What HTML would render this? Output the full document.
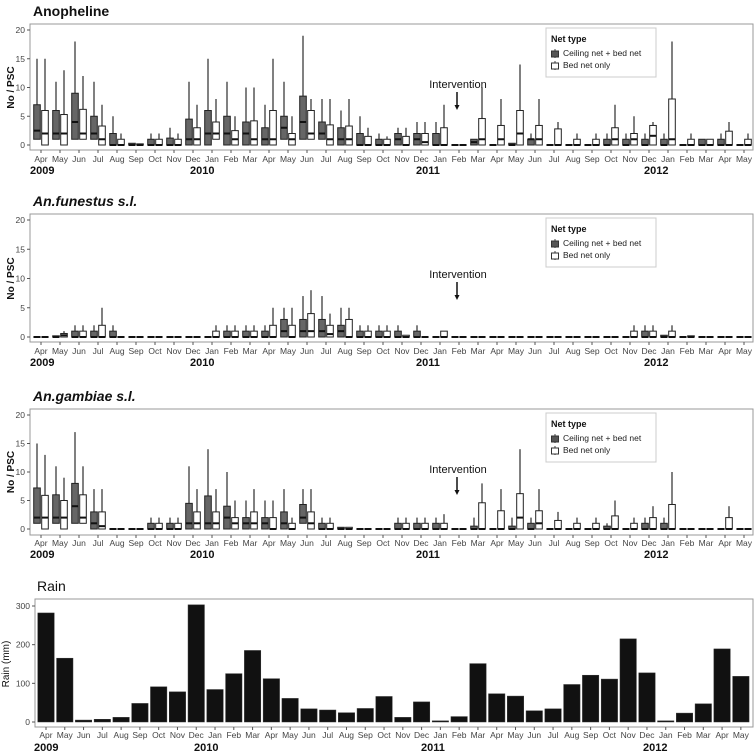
<!DOCTYPE html>
<html><head><meta charset="utf-8"><style>
body{margin:0;background:#fff}
svg{display:block;font-family:"Liberation Sans",Arial,sans-serif}
</style></head><body>
<svg id="chart" width="756" height="754" viewBox="0 0 756 754" xmlns="http://www.w3.org/2000/svg"></svg>
<script>
const months = ['Apr','May','Jun','Jul','Aug','Sep','Oct','Nov','Dec','Jan','Feb','Mar','Apr','May','Jun','Jul','Aug','Sep','Oct','Nov','Dec','Jan','Feb','Mar','Apr','May','Jun','Jul','Aug','Sep','Oct','Nov','Dec','Jan','Feb','Mar','Apr','May'];
const yearLabels = ['2009','2010','2011','2012'];
const yTicks = [0,5,10,15,20];
const rainTicks = [0,100,200,300];

// Anopheline
const a_dHi  = [15,11,18,11,5,0.3,2,3,11,15,11,10,7,11,19,8,6,5,2,3,4,4,0,1,0,0.3,2,0,0,0,2,2,2,2,0,1,2,0];
const a_dQ3  = [7,6,9,5,2,0.3,1,1.2,4.5,6,5,4,3,5,8.5,4,3,2,1,2,2,2,0,1,0,0.3,1,0,0,0,1,1,1,1,0,1,1,0];
const a_dMed = [2.5,2,4,2,0,0,0,0,1,2,2,2,1,3,4,2,1,0,0,1,1,0,0,0.5,0,0,1,0,0,0,0,0,0,0,0,0,0,0];
const a_dQ1  = [1,1,1,1,0,0,0,0,0,0,0,0,0,1,1,1,0,0,0,0,0,0,0,0,0,0,0,0,0,0,0,0,0,0,0,0,0,0];
const a_wHi  = [15,13,12,7,2,0.2,2,2,7,8,5,10,15,5,8,8,8,3,1.5,3,4,7,0,10,8,14,8,4,2,2,7,5,4,18,2,1,4,2];
const a_wQ3  = [6,5.3,6.2,3.3,1,0.2,1,1,3,4,2.5,4.2,6,2,6,3.5,3.3,1.5,1,1.5,2,3,0,4.6,3.4,6,3.4,2.8,1,1,3,2,3.4,8,1,1,2.4,1];
const a_wMed = [2,2,2,1,0,0,0,0,1,2,1,1,1,1,2,1,1,0,0,0,0.5,0,0,1,1,2,1,0,0,0,1,1,1.6,1,0,0,0,0];
const a_wQ1  = [0,0,1,0,0,0,0,0,0,1,0,0,0,0,1,0,0,0,0,0,0,0,0,0,0,0,0,0,0,0,0,0,0,0,0,0,0,0];

// An. funestus
const f_dHi  = [0,0.2,2,2,2,0,0,0,0,0,2,2,2,5,7,7,5,2,2,2,2,0,0,0,0,0,0,0,0,0,0,0,2,0.3,0,0,0,0];
const f_dQ3  = [0,0.2,1,1,1,0,0,0,0,0,1,1,1,3,3,3,2,1,1,1,1,0,0,0,0,0,0,0,0,0,0,0,1,0.3,0,0,0,0];
const f_dMed = [0,0,0,0,0,0,0,0,0,0,0,0,0,1,1,1,1,0,0,0,0,0,0,0,0,0,0,0,0,0,0,0,0,0,0,0,0,0];
const f_dQ1  = [0,0,0,0,0,0,0,0,0,0,0,0,0,0,0,0,0,0,0,0,0,0,0,0,0,0,0,0,0,0,0,0,0,0,0,0,0,0];
const f_wHi  = [0,1,2,5,0,0,0,0,0,2,2,2,5,5,8,4,5,2,2,0.3,0,1,0,0,0,0,0,0,0,0,0,2,2,2,0.2,0,0,0];
const f_wQ3  = [0,0.6,1,2,0,0,0,0,0,1,1,1,2,2,4,2,3,1,1,0.3,0,1,0,0,0,0,0,0,0,0,0,1,1,1,0.2,0,0,0];
const f_wMed = [0,0.3,0,0,0,0,0,0,0,0,0,0,0,0,1,0.5,0,0,0,0,0,0,0,0,0,0,0,0,0,0,0,0,0,0,0,0,0,0];
const f_wQ1  = [0,0,0,0,0,0,0,0,0,0,0,0,0,0,0,0,0,0,0,0,0,0,0,0,0,0,0,0,0,0,0,0,0,0,0,0,0,0];

// An. gambiae
const g_dHi  = [15,11,17,7,0,0,2,2,11,14,10,5,5,7,7,2,0.3,0,0,2,2,2,0,2,0,2,2,0,0,0,1,0,2,2,0,0,0,0];
const g_dQ3  = [7.2,6,8,3,0,0,1,1,4.5,5.8,4,2,2,3,4.3,1,0.3,0,0,1,1,1,0,0.5,0,0.5,1,0,0,0,0.5,0,1,1,0,0,0,0];
const g_dMed = [2,2,4,1,0,0,0,0,1,1,2,1,1,1,2,0,0,0,0,0,0,0,0,0,0,0,0,0,0,0,0,0,0,0,0,0,0,0];
const g_dQ1  = [1,1,1,0,0,0,0,0,0,0,0,0,0,0,1,0,0,0,0,0,0,0,0,0,0,0,0,0,0,0,0,0,0,0,0,0,0,0];
const g_wHi  = [13,9,11,7,0,0,2,2,7,7,5,7,5,2,7,2,0.3,0,0,2,2,2.6,0,8,7,14,7,3,2,2,5,2,4,10,0,0,4,0];
const g_wQ3  = [5.9,5,6,3,0,0,1,1,3,3,2,3,2,1,3,1,0.3,0,0,1,1,1,0,4.6,3.2,6.2,3.2,1.5,1,1,2.3,1,2,4.3,0,0,2,0];
const g_wMed = [2,2,2,0.5,0,0,0,0,1,1,1,1,0,0,1,0,0,0,0,0,0,0,0,0,0,2,1,0,0,0,0,0,0,0,0,0,0,0];
const g_wQ1  = [0,0,1,0,0,0,0,0,0,0,0,0,0,0,0,0,0,0,0,0,0,0,0,0,0,0,0,0,0,0,0,0,0,0,0,0,0,0];

// Rain (mm)
const rainValues = [282,165,5,7,12,48,91,78,303,84,125,185,112,61,34,31,24,35,66,12,52,3,14,151,73,67,29,34,97,121,111,215,127,3,23,47,189,118];

const NS='http://www.w3.org/2000/svg';
const svg=document.getElementById('chart');
function el(tag,attrs,parent){const e=document.createElementNS(NS,tag);for(const k in attrs)e.setAttribute(k,attrs[k]);(parent||svg).appendChild(e);return e;}
function txt(s,attrs,parent){const e=el('text',attrs,parent);e.textContent=s;return e;}

const panels=[
 {key:'anopheline',title:'Anopheline',italic:false,top:24,bottom:150,y0:145,y20:30,d:[a_dHi,a_dQ3,a_dMed,a_dQ1],w:[a_wHi,a_wQ3,a_wMed,a_wQ1]},
 {key:'funestus',title:'An.funestus s.l.',italic:true,top:214,bottom:342,y0:337,y20:220,d:[f_dHi,f_dQ3,f_dMed,f_dQ1],w:[f_wHi,f_wQ3,f_wMed,f_wQ1]},
 {key:'gambiae',title:'An.gambiae s.l.',italic:true,top:409,bottom:535,y0:529,y20:415,d:[g_dHi,g_dQ3,g_dMed,g_dQ1],w:[g_wHi,g_wQ3,g_wMed,g_wQ1]}
];
const yearX=[30,190,416,644];
function xBox(i){return 41+i*19.0;}

panels.forEach(p=>{
 const g=el('g',{});
 
 
 const yS=v=>p.y0-(p.y0-p.y20)*v/20;
 const t=txt(p.title,{x:33,y:p.top-8,'font-size':14,'font-weight':'bold','font-style':p.italic?'italic':'normal',fill:'#111'},g);
 
 
 const fr=el('rect',{x:30,y:p.top,width:723,height:p.bottom-p.top,fill:'none',stroke:'#999','stroke-width':1},g);
 
 
 yTicks.forEach(v=>{
  const y=yS(v);
  el('line',{x1:27,x2:30,y1:y,y2:y,stroke:'#555'},g);
  const tl=txt(String(v),{x:25,y:y+3,'font-size':8.5,'text-anchor':'end',fill:'#444'},g);
  
  
 });
 const at=txt('No / PSC',{transform:`translate(14,${(p.y0+p.y20)/2}) rotate(-90)`,'font-size':10,'font-weight':'bold','text-anchor':'middle',fill:'#111'},g);
 
 
 months.forEach((m,i)=>{
  const x=xBox(i);
  el('line',{x1:x,x2:x,y1:p.bottom,y2:p.bottom+3,stroke:'#555'},g);
  const ml=txt(m,{x:x,y:p.y0+17,'font-size':8.5,'text-anchor':'middle',fill:'#444'},g);
  
  
 });
 yearLabels.forEach((yl,k)=>{
  const e=txt(yl,{x:yearX[k],y:p.y0+29,'font-size':11,'font-weight':'bold',fill:'#111'},g);
  
  
 });
 [[p.d,-4,'#666','ceiling-net-box'],[p.w,4,'#fff','bed-net-box']].forEach(([arr,off,fill,nm])=>{
  months.forEach((m,i)=>{
   const cx=xBox(i)+off, hi=arr[0][i], q3=arr[1][i], med=arr[2][i], q1=arr[3][i];
   const bg=el('g',{},g);
   
   
   el('line',{x1:cx,x2:cx,y1:yS(hi),y2:yS(q3),stroke:'#555','stroke-width':1.5},bg);
   el('rect',{x:cx-3.3,y:yS(q3),width:6.6,height:Math.max(yS(q1)-yS(q3),0.01),fill:fill,stroke:'#222','stroke-width':1},bg);
   el('line',{x1:cx-3.3,x2:cx+3.3,y1:yS(med),y2:yS(med),stroke:'#111','stroke-width':2},bg);
  });
 });
 // legend
 const lg=el('g',{},g);
 
 
 const lt=p.top+4;
 el('rect',{x:546,y:lt,width:110,height:49,fill:'#fff',stroke:'#ccc'},lg);
 txt('Net type',{x:551,y:lt+14,'font-size':9,'font-weight':'bold',fill:'#111'},lg);
 [['Ceiling net + bed net','#555',27],['Bed net only','#fff',39]].forEach(([lab,f,dy])=>{
  const le=el('g',{},lg);
  
  
  el('line',{x1:555,x2:555,y1:lt+dy-6,y2:lt+dy+3,stroke:'#444'},le);
  el('rect',{x:551.5,y:lt+dy-4,width:7,height:6,fill:f,stroke:'#333'},le);
  txt(lab,{x:563,y:lt+dy+1,'font-size':8.5,fill:'#222'},le);
 });
 // intervention
 const ig=el('g',{},g);
 
 
 const iy=p.top+64;
 txt('Intervention',{x:458,y:iy,'font-size':11,'text-anchor':'middle',fill:'#111'},ig);
 el('line',{x1:457,x2:457,y1:iy+4,y2:iy+19,stroke:'#111','stroke-width':1.5},ig);
 el('path',{d:`M454.5,${iy+17} L457,${iy+22} L459.5,${iy+17}Z`,fill:'#111'},ig);
});

// Rain panel
(function(){
 const g=el('g',{});
 
 
 const y0=722, y300=606, top=599, bottom=727;
 const yS=v=>y0-(y0-y300)*v/300;
 const xR=i=>46+i*18.78;
 const t=txt('Rain',{x:37,y:591,'font-size':14,fill:'#111'},g);
 
 
 const fr=el('rect',{x:35,y:top,width:718,height:bottom-top,fill:'none',stroke:'#999'},g);
 
 
 rainTicks.forEach(v=>{
  const y=yS(v);
  el('line',{x1:32,x2:35,y1:y,y2:y,stroke:'#555'},g);
  const tl=txt(String(v),{x:30,y:y+3,'font-size':8.5,'text-anchor':'end',fill:'#444'},g);
  
  
 });
 const at=txt('Rain (mm)',{transform:'translate(9,664) rotate(-90)','font-size':10,'text-anchor':'middle',fill:'#111'},g);
 
 
 rainValues.forEach((v,i)=>{
  const b=el('rect',{x:xR(i)-8.2,y:yS(v),width:16.4,height:y0-yS(v),fill:'#111',stroke:'#333','stroke-width':0.5},g);
  
  
 });
 months.forEach((m,i)=>{
  const x=xR(i);
  el('line',{x1:x,x2:x,y1:bottom,y2:bottom+3,stroke:'#555'},g);
  const ml=txt(m,{x:x,y:738,'font-size':8.5,'text-anchor':'middle',fill:'#444'},g);
  
  
 });
 const rYearX=[34,194,421,643];
 yearLabels.forEach((yl,k)=>{
  const e=txt(yl,{x:rYearX[k],y:751,'font-size':11,'font-weight':'bold',fill:'#111'},g);
  
  
 });
})();
</script>
</body></html>
